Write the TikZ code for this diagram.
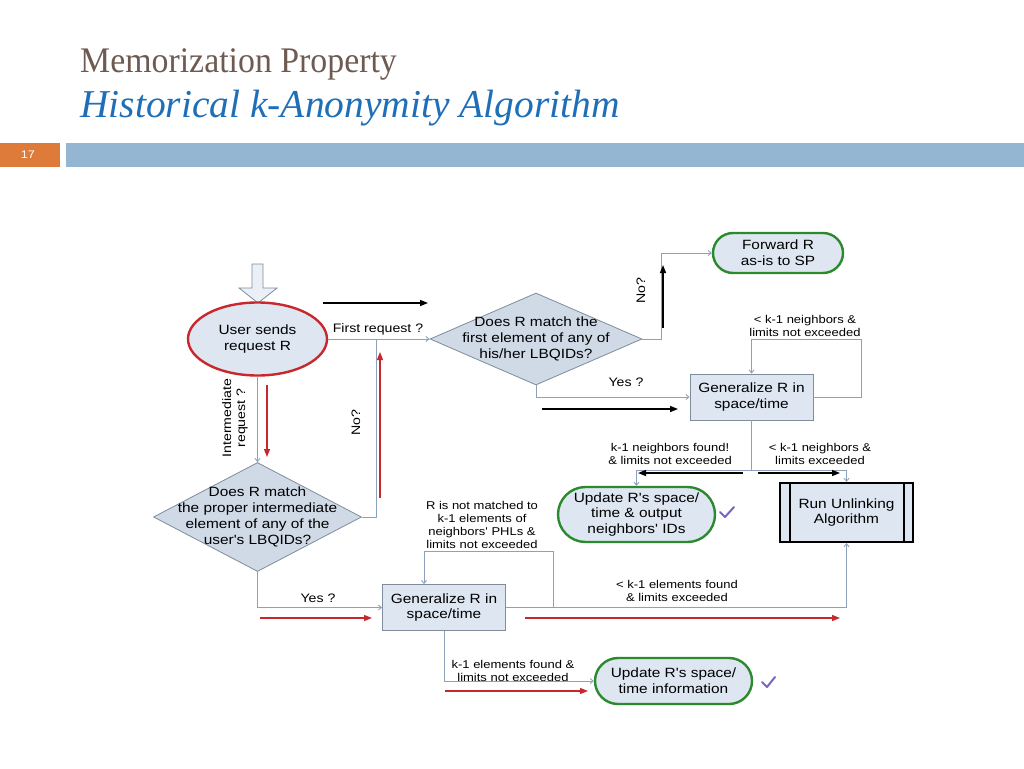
\documentclass[tikz,border=0pt]{standalone}
\usepackage{fontspec}
\setmainfont{Liberation Serif}
\newfontfamily\diagfont{Liberation Sans}[FakeStretch=1.15]
\newfontfamily\titlefont{Liberation Serif}[FakeStretch=0.94]
\newfontfamily\subtitlefont{Liberation Serif}[FakeStretch=1.0]
\usetikzlibrary{shapes.geometric,shapes.misc,arrows.meta}

\definecolor{titlebrown}{HTML}{6E5A50}
\definecolor{titleblue}{HTML}{1F6EB8}
\definecolor{bandblue}{HTML}{94B6D2}
\definecolor{bandorange}{HTML}{DE7B3A}
\definecolor{boxfill}{HTML}{DDE6F1}
\definecolor{diafill}{HTML}{D0DAE6}
\definecolor{linkgrey}{HTML}{8DA2BA}
\definecolor{boxline}{HTML}{7E8C9C}
\definecolor{stopred}{HTML}{C8282D}
\definecolor{okgreen}{HTML}{2C8A2E}
\definecolor{tickblue}{HTML}{7468C6}

\tikzset{
  txt/.style={font=\diagfont\fontsize{13.4}{15.9}\selectfont, align=center},
  small/.style={font=\diagfont\fontsize{11.3}{12.7}\selectfont, align=center, inner sep=0pt},
  mid/.style={font=\diagfont\fontsize{12.3}{14}\selectfont, align=center, inner sep=0pt},
  link/.style={draw=linkgrey, line width=0.9pt, -{Straight Barb[length=3pt,width=5pt]}},
  hint/.style={line width=1.4pt, -{Triangle[length=8pt,width=6pt]}},
  redhint/.style={draw=stopred, line width=1.3pt, -{Triangle[length=8pt,width=6pt]}, stopred},
  tick/.style={draw=tickblue, line width=2pt, line cap=round, line join=round}
}

\begin{document}
\begin{tikzpicture}[x=1pt, y=-1pt,
    startnode/.style={ellipse, draw=stopred, line width=2.4pt, fill=boxfill, txt,
                      minimum width=139pt, minimum height=73pt, inner sep=0pt},
    decision/.style={diamond, draw=boxline, line width=0.8pt, fill=diafill, inner sep=0pt},
    process/.style={rectangle, draw=boxline, line width=0.9pt, fill=boxfill, txt,
                    minimum width=123pt, minimum height=46pt, inner sep=0pt},
    terminal/.style={rounded rectangle, draw=okgreen, line width=2.4pt, fill=boxfill, txt, inner sep=0pt},
    subproc/.style={rectangle, draw=black, line width=2.2pt, fill=boxfill, txt,
                    minimum width=133pt, minimum height=59pt, inner sep=0pt}]
  \useasboundingbox (0,0) rectangle (1024,768);

  % header
  \node[anchor=base west, inner sep=0pt, text=titlebrown,
        font=\titlefont\fontsize{36}{40}\selectfont] (head) at (80,72) {Memorization Property};
  \node[anchor=base west, inner sep=0pt, text=titleblue,
        font=\subtitlefont\itshape\fontsize{39.5}{42}\selectfont] (subhead) at (80,117) {Historical k-Anonymity Algorithm};
  \fill[bandorange] (0,143) rectangle (60,167);
  \fill[bandblue] (66,143) rectangle (1024,167);
  \node[text=white, font=\diagfont\fontsize{11}{12}\selectfont] (page) at (28,155) {17};

  % entry arrow
  \draw[boxline, fill=boxfill!60!white, line width=0.8pt]
    (252,264) -- (263,264) -- (263,288) -- (277,288) -- (258,303) -- (239,288) -- (252,288) -- cycle;

  % nodes
  \node[startnode] (user) at (257.5,339) {User sends\\request R};
  \node[decision, minimum width=212pt, minimum height=92pt] (match1) at (536,339) {};
  \node[txt] (match1txt) at (match1) {Does R match the\\first element of any of\\his/her LBQIDs?};
  \node[terminal, minimum width=130pt, minimum height=40pt] (forward) at (778,253) {Forward R\\as-is to SP};
  \node[process] (gen1) at (751.5,397) {Generalize R in\\space/time};
  \node[terminal, minimum width=157pt, minimum height=55pt] (upd1) at (636.5,514.5) {Update R's space/\\time \& output\\neighbors' IDs};
  \node[subproc] (unlink) at (846.5,512.5) {Run Unlinking\\Algorithm};
  \draw[black, line width=2.2pt] ([xshift=11pt]unlink.north west) -- ([xshift=11pt]unlink.south west);
  \draw[black, line width=2.2pt] ([xshift=-10pt]unlink.north east) -- ([xshift=-10pt]unlink.south east);
  \node[decision, minimum width=208pt, minimum height=109pt] (match2) at (257.5,517) {};
  \node[txt] (match2txt) at (match2) {Does R match\\the proper intermediate\\element of any of the\\user's LBQIDs?};
  \node[process] (gen2) at (444,607.5) {Generalize R in\\space/time};
  \node[terminal, minimum width=157pt, minimum height=46pt] (upd2) at (673.5,681) {Update R's space/\\time information};

  % connectors
  \coordinate (join) at (376,339);
  \coordinate (split) at (751.5,470);
  \draw[link] (user.east) -- (match1.west);
  \draw[link] (match1.east) -- ++(19,0) |- (forward.west);
  \draw[link] (match1.south) |- (gen1.west);
  \draw[link] (gen1.east) -- ++(48,0) -- ++(0,-58) -| (gen1.north);
  \draw[draw=linkgrey, line width=0.9pt] (gen1.south) -- (split);
  \draw[link] (split) -| (upd1.north);
  \draw[link] (split) -| (unlink.north);
  \draw[link] (user.south) -- (match2.north);
  \draw[draw=linkgrey, line width=0.9pt] (match2.east) -| (join);
  \draw[link] (match2.south) |- (gen2.west);
  \draw[link] (gen2.east) -- ++(47,0) -- ++(0,-56.5) -| ([xshift=-20pt]gen2.north);
  \draw[link] (gen2.east) -| (unlink.south);
  \draw[link] (gen2.south) |- (upd2.west);

  % connector labels
  \node[mid] (lfirst) at (378,329) {First request ?};
  \node[mid, rotate=90] (lno1) at (641,291) {No?};
  \node[mid] (lyes1) at (626,382) {Yes ?};
  \node[small] (lloop1) at (805,326) {< k-1 neighbors \&\\limits not exceeded};
  \node[small] (lfound) at (670,454) {k-1 neighbors found!\\\& limits not exceeded};
  \node[small] (lexceed) at (820,454) {< k-1 neighbors \&\\limits exceeded};
  \node[mid, rotate=90] (linter) at (235,418) {Intermediate\\request ?};
  \node[mid, rotate=90] (lno2) at (356,423) {No?};
  \node[mid] (lyes2) at (318,598) {Yes ?};
  \node[small] (lloop2) at (482,525) {R is not matched to\\k-1 elements of\\neighbors' PHLs \&\\limits not exceeded};
  \node[small] (lfew) at (677,591) {< k-1 elements found\\\& limits exceeded};
  \node[small] (lenough) at (513,671) {k-1 elements found \&\\limits not exceeded};

  % flow hints
  \draw[hint] (323,303) -- (428,303);
  \draw[hint] (663,328) -- (663,265);
  \draw[hint] (542,409) -- (678,409);
  \draw[hint] (743,473) -- (638,473);
  \draw[hint] (758,473) -- (840,473);
  \draw[redhint] (267,385) -- (267,457);
  \draw[redhint] (380,498) -- (380,352);
  \draw[redhint] (260,618) -- (372,618);
  \draw[redhint] (525,618) -- (840,618);
  \draw[redhint] (445,691) -- (588,691);

  % ticks
  \draw[tick] (720,512) -- (725,517) -- (734,507);
  \draw[tick] (762,682) -- (767,687) -- (775,677);
\end{tikzpicture}
\end{document}
